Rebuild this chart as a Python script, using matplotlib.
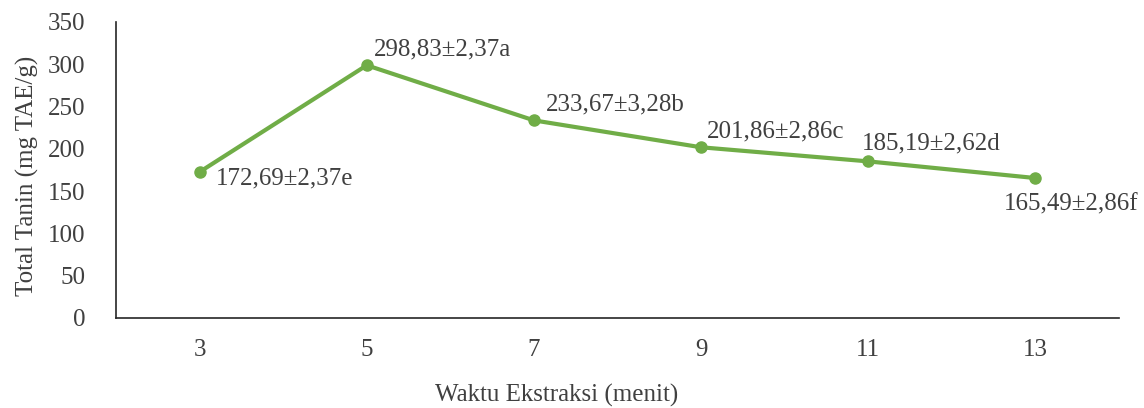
import matplotlib
matplotlib.use("Agg")
import matplotlib.pyplot as plt

categories = ["3", "5", "7", "9", "11", "13"]
values = [172.69, 298.83, 233.67, 201.86, 185.19, 165.49]
labels = ["172,69±2,37e", "298,83±2,37a", "233,67±3,28b", "201,86±2,86c", "185,19±2,62d", "165,49±2,86f"]
yticks = [0, 50, 100, 150, 200, 250, 300, 350]

plt.rcParams['font.family'] = ['Liberation Serif', 'DejaVu Serif']
txt = '#404040'
green = '#70AD47'

fig = plt.figure(figsize=(11.44, 4.08), dpi=100)
ax = fig.add_axes([116/1144, 1 - 318/408, (1119 - 116)/1144, (318 - 22)/408])
x = list(range(len(categories)))
ax.plot(x, values, color=green, lw=3, marker='o', ms=8, solid_capstyle='round')
ax.set_xlim(-0.5, len(categories) - 0.5)
ax.set_ylim(0, 350)
ax.set_yticks(yticks)
ax.set_xticks(x)
ax.set_xticklabels(categories)
ax.tick_params(length=0, labelsize=18, colors=txt)
ax.tick_params(axis='y', pad=22)
ax.tick_params(axis='x', pad=15)
for s in ['top', 'right']:
    ax.spines[s].set_visible(False)
for s in ['left', 'bottom']:
    ax.spines[s].set_color('#262626')
    ax.spines[s].set_linewidth(1.2)

offsets = [(16, -6), (7, 16), (12, 16), (6, 16), (-6, 18), (36, -26)]
aligns = ['left', 'left', 'left', 'left', 'left', 'center']
for xi, v, lab, off, al in zip(x, values, labels, offsets, aligns):
    ax.annotate(lab, (xi, v), xytext=off, textcoords='offset pixels',
                ha=al, va='center', fontsize=18, color=txt, annotation_clip=False)

fig.text(557/1144, 1 - 395/408, "Waktu Ekstraksi (menit)", ha='center', va='center', fontsize=18, color=txt)
fig.text(27/1144, 1 - 176/408, "Total Tanin (mg TAE/g)", ha='center', va='center', rotation=90, fontsize=18, color=txt)

fig.savefig("out.png", dpi=100)
